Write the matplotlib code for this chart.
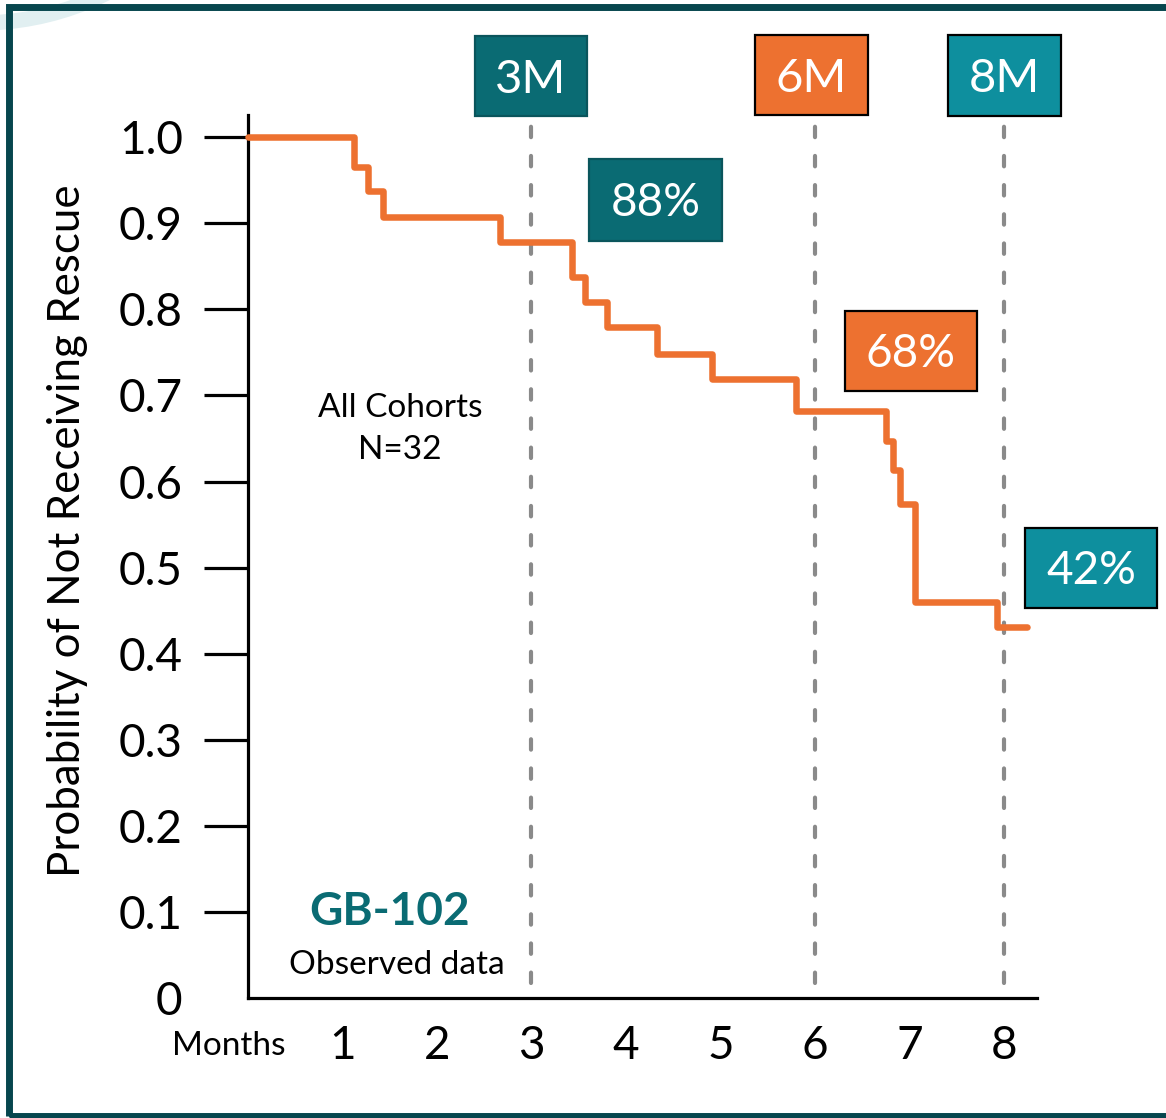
import matplotlib
matplotlib.use("Agg")
import matplotlib.pyplot as plt
from matplotlib.patches import Rectangle, Arc
from matplotlib.transforms import IdentityTransform

# ---------------- data ----------------
time_months = [0, 1.12, 1.27, 1.43, 2.67, 3.43, 3.57, 3.80, 4.33, 4.91,
               5.80, 6.75, 6.83, 6.90, 7.06, 7.93, 8.24]
survival = [1.0, 0.966, 0.938, 0.907, 0.878, 0.838, 0.809, 0.780, 0.748,
            0.719, 0.682, 0.647, 0.613, 0.574, 0.460, 0.431, 0.431]
y_ticks = [0, 0.1, 0.2, 0.3, 0.4, 0.5, 0.6, 0.7, 0.8, 0.9, 1.0]
y_tick_labels = ["0", "0.1", "0.2", "0.3", "0.4", "0.5", "0.6", "0.7", "0.8", "0.9", "1.0"]
x_ticks = [1, 2, 3, 4, 5, 6, 7, 8]
x_tick_labels = ["1", "2", "3", "4", "5", "6", "7", "8"]
milestone_months = [3, 6, 8]
milestone_labels = ["3M", "6M", "8M"]
milestone_pcts = ["88%", "68%", "42%"]

# ---------------- style ----------------
ORANGE = "#ed7130"
TEAL_DARK = "#0a6b73"
TEAL = "#0e8f9e"
FRAME = "#07464e"
GREY = "#8a8a8a"

plt.rcParams["font.family"] = ["Lato", "DejaVu Sans"]
plt.rcParams["lines.scale_dashes"] = False

W, H = 1166, 1118
fig = plt.figure(figsize=(W / 100, H / 100), dpi=100)
fig.patch.set_facecolor("white")

def fx(px):
    return px / W

def fy(py):
    return 1 - py / H

# decorative arc + frame (display/pixel coordinates)
arc = Arc((-20, H + 260), 566, 566, theta1=-110, theta2=-20,
          lw=11, color="#e1eff1", transform=IdentityTransform())
fig.patches.append(arc)
frame = Rectangle((8.5, H - 1115.5), 1400, 1115.5 - 6.5, fill=False,
                  edgecolor=FRAME, lw=5.0, transform=IdentityTransform())
fig.patches.append(frame)

ax = fig.add_axes([fx(248), fy(997.7), fx(1037 - 248), (997.7 - 115) / H])
ax.set_xlim(0, 8.35)
ax.set_ylim(0, 1.026)

# dashed milestone lines
for m in milestone_months:
    ax.plot([m, m], [0.017, 1.015], color=GREY, lw=3.0, dashes=(7.5, 13.5),
            dash_capstyle="round", clip_on=False, zorder=2)

# KM curve
ax.step(time_months, survival, where="post", color=ORANGE, lw=4.7,
        solid_joinstyle="round", solid_capstyle="round", zorder=3, clip_on=False)

for s in ["top", "right"]:
    ax.spines[s].set_visible(False)
for s in ["left", "bottom"]:
    ax.spines[s].set_linewidth(2.3)
    ax.spines[s].set_color("black")

ax.set_yticks(y_ticks)
ax.set_yticklabels(y_tick_labels)
ax.set_xticks(x_ticks)
ax.set_xticklabels(x_tick_labels)
ax.tick_params(axis="y", direction="out", length=32, width=2.3, pad=15,
               labelsize=33, colors="black")
ax.tick_params(axis="x", length=0, pad=20, labelsize=33, colors="black")
ax.yaxis.get_major_ticks()[0].tick1line.set_visible(False)

# axis label texts
fig.text(fx(68), fy(531), "Probability of Not Receiving Rescue", rotation=90,
         fontsize=31.6, ha="center", va="center")
fig.text(fx(229), fy(1055), "Months", fontsize=24, ha="center", va="baseline")

# annotations
fig.text(fx(400), fy(417), "All Cohorts", fontsize=24, ha="center", va="baseline")
fig.text(fx(400), fy(459.5), "N=32", fontsize=24, ha="center", va="baseline")
fig.text(fx(390), fy(925), "GB-102", fontsize=33, fontweight="bold",
         color=TEAL_DARK, ha="center", va="baseline")
fig.text(fx(397), fy(974), "Observed data", fontsize=24, ha="center", va="baseline")

# label boxes: (x0, y0, x1, y1) in pixels, top-left origin
def box(x0, y0, x1, y1, face, edge, text, size):
    r = Rectangle((fx(x0), fy(y1)), fx(x1 - x0), (y1 - y0) / H,
                  facecolor=face, edgecolor=edge, lw=1.6,
                  transform=fig.transFigure, zorder=5)
    fig.patches.append(r)
    cy = (y0 + y1) / 2
    cap = size * 100 / 72 * 0.7165
    fig.text(fx((x0 + x1) / 2), fy(cy + cap / 2),
             text, fontsize=size, color="white", ha="center", va="baseline", zorder=6)

m_boxes = [(475, 36, 587, 116, TEAL_DARK, "#0a555c"),
           (755, 35, 868, 115, ORANGE, "black"),
           (948, 35, 1061, 116, TEAL, "black")]
p_boxes = [(589, 159, 722, 241, TEAL_DARK, "#0a555c"),
           (845, 311, 977, 391, ORANGE, "black"),
           (1025, 528, 1157, 608, TEAL, "black")]

for (x0, y0, x1, y1, fc, ec), lab in zip(m_boxes, milestone_labels):
    box(x0, y0, x1, y1, fc, ec, lab, 34)
for (x0, y0, x1, y1, fc, ec), lab in zip(p_boxes, milestone_pcts):
    box(x0, y0, x1, y1, fc, ec, lab, 33)

fig.savefig("out.png", dpi=100, facecolor="white")
